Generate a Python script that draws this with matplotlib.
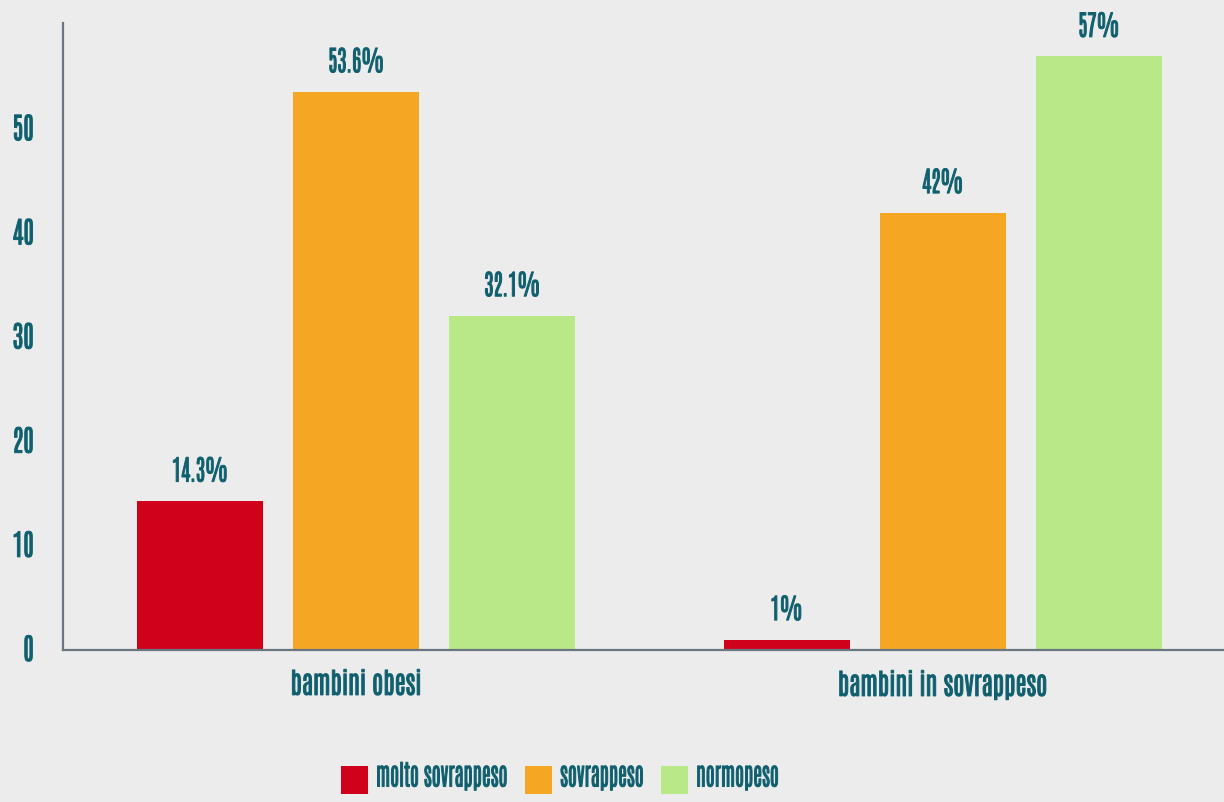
import numpy as np
import matplotlib
matplotlib.use('Agg')
import matplotlib.pyplot as plt
import matplotlib.patheffects as pe
from matplotlib.patches import Patch
from matplotlib.transforms import Affine2D

groups = ['bambini obesi', 'bambini in sovrappeso']
series = ['molto sovrappeso', 'sovrappeso', 'normopeso']
values = [
    [14.3, 1],
    [53.6, 42],
    [32.1, 57],
]
labels = [
    ['14.3%', '1%'],
    ['53.6%', '42%'],
    ['32.1%', '57%'],
]
yticks = [0, 10, 20, 30, 40, 50]

colors = ['#d0021b', '#f5a623', '#b8e986']
textcol = '#0f5f6e'
bg = '#ececec'

plt.rcParams['font.family'] = ['Antonio', 'Oswald', 'DejaVu Sans']


class Tall(pe.AbstractPathEffect):
    # draws the glyphs stretched upward from the baseline, with a thin
    # outline so the letters look heavier (the original font is tall & narrow)
    def __init__(self, sy=1.2, lw=0.7):
        super().__init__()
        self.sy = sy
        self.lw = lw

    def draw_path(self, renderer, gc, tpath, affine, rgbFace=None):
        tr = Affine2D().scale(1, self.sy) + affine
        gc0 = renderer.new_gc()
        gc0.copy_properties(gc)
        gc0.set_linewidth(self.lw)
        if rgbFace is not None:
            gc0.set_foreground(rgbFace)
        renderer.draw_path(gc0, tpath, tr, rgbFace)
        gc0.restore()


fig = plt.figure(figsize=(12.24, 8.02), dpi=100)
fig.patch.set_facecolor(bg)
ax = fig.add_axes([63/1224, 152/802, 1173/1224, 627/802])
ax.set_facecolor('none')

x = np.arange(len(groups))
w = 126/586
step = 156/586
for i in range(len(series)):
    xs = x + (i - 1)*step
    ax.bar(xs, values[i], width=w, color=colors[i], label=series[i])
    for xx, v, lab in zip(xs, values[i], labels[i]):
        ax.annotate(lab, (xx, v), xytext=(0, 14), textcoords='offset points',
                    ha='center', va='baseline', color=textcol, fontsize=15.7,
                    path_effects=[Tall(1.3)])

ax.set_xlim(-0.5, 1.5)
ax.set_ylim(0, 60.2)
ax.set_yticks(yticks)
ax.set_xticks(x)
ax.set_xticklabels(groups)
ax.tick_params(length=0, labelcolor=textcol)
ax.tick_params(axis='y', pad=21, labelsize=18.5)
ax.tick_params(axis='x', pad=16.5, labelsize=18)
for t in ax.get_xticklabels() + ax.get_yticklabels():
    t.set_path_effects([Tall(1.15)])
for s in ['top', 'right']:
    ax.spines[s].set_visible(False)
for s in ['left', 'bottom']:
    ax.spines[s].set_color('#6b7780')
    ax.spines[s].set_linewidth(1.6)

fs = 14.5
px = fs*100/72
handles = [Patch(facecolor=c, edgecolor='none') for c in colors]
leg = fig.legend(handles, series, loc='center', bbox_to_anchor=(560/1224, 22/802),
                 ncol=3, frameon=False, fontsize=fs, labelcolor=textcol,
                 handlelength=27/px, handleheight=34/px,
                 handletextpad=0.4, columnspacing=0.85)
for t in leg.get_texts():
    t.set_path_effects([Tall(1.4)])

plt.savefig('out.png', dpi=100, facecolor=bg)
